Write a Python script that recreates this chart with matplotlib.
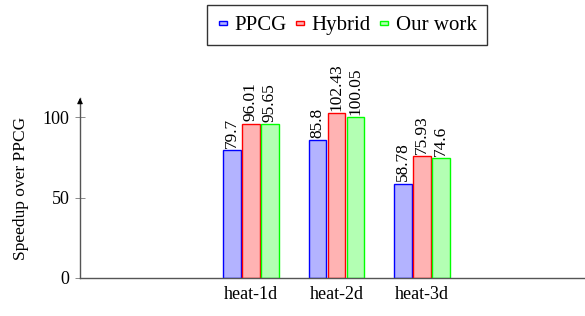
import matplotlib
matplotlib.use("Agg")
import matplotlib.pyplot as plt
import numpy as np
from matplotlib.patches import Patch, Rectangle
from matplotlib.legend_handler import HandlerPatch

categories = ["heat-1d", "heat-2d", "heat-3d"]
series_names = ["PPCG", "Hybrid", "Our work"]
ppcg = [79.7, 85.8, 58.78]
hybrid = [96.01, 102.43, 75.93]
ours = [95.65, 100.05, 74.6]
label_ppcg = ["79.7", "85.8", "58.78"]
label_hybrid = ["96.01", "102.43", "75.93"]
label_ours = ["95.65", "100.05", "74.6"]
yticks = [0, 50, 100]

plt.rcParams['font.family'] = ['Liberation Serif', 'DejaVu Serif']
plt.rcParams['font.size'] = 13

fig = plt.figure(figsize=(5.85, 3.16), dpi=100)
ax = fig.add_axes([80/585, 38/316, 510/585, 180/316])

x = np.arange(1, len(categories) + 1)
w = 0.2
off = 0.222
styles = [("#b3b3ff", "#0000ff"), ("#ffb3b3", "#ff0000"), ("#b3ffb3", "#00ff00")]
data = [ppcg, hybrid, ours]
labels = [label_ppcg, label_hybrid, label_ours]
for i, (vals, labs, (fc, ec)) in enumerate(zip(data, labels, styles)):
    xs = x + (i - 1) * off
    ax.bar(xs, vals, width=w, facecolor=fc, edgecolor=ec, linewidth=1.0, zorder=2)
    for xx, v, t in zip(xs, vals, labs):
        ax.text(xx, v + 1.5, t, rotation=90, ha="center", va="bottom", fontsize=12.5)

ax.set_xlim(-1, 4.965)
ax.set_ylim(0, 112)
ax.set_xticks(x)
ax.set_xticklabels(categories)
ax.set_yticks(yticks)
ax.tick_params(axis="x", length=0, pad=6, labelsize=13)
ax.tick_params(axis="y", direction="inout", length=7, width=0.6, color="#777777", labelsize=13, pad=4)
for s in ["top", "right"]:
    ax.spines[s].set_visible(False)
for s in ["left", "bottom"]:
    ax.spines[s].set_color("#555555")
    ax.spines[s].set_linewidth(1.0)
ax.set_ylabel("Speedup over PPCG", fontsize=12.5, labelpad=10)

# axis arrow
ax.annotate("", xy=(0, 1.0), xycoords="axes fraction", xytext=(0, 0.97),
            arrowprops=dict(arrowstyle="-|>", color="black", lw=0.8, mutation_scale=8), annotation_clip=False)


def small_rect(legend, orig_handle, xdescent, ydescent, width, height, fontsize):
    rw, rh = 6.0, 3.0
    return Rectangle((-xdescent + (width - rw) / 2, -ydescent + (height - rh) / 2), rw, rh)


handles = [Patch(facecolor=fc, edgecolor=ec, linewidth=1.0) for fc, ec in styles]
leg = fig.legend(handles, series_names, loc="upper center", bbox_to_anchor=(347/585, 1 - 5/316),
                 ncol=3, frameon=True, fancybox=False, fontsize=15, handlelength=0.5,
                 handleheight=0.7, handletextpad=0.3, columnspacing=0.4, borderpad=0.5,
                 borderaxespad=0, edgecolor="black",
                 handler_map={Patch: HandlerPatch(patch_func=small_rect)})
leg.get_frame().set_linewidth(1.0)

fig.savefig("out.png", dpi=100)
